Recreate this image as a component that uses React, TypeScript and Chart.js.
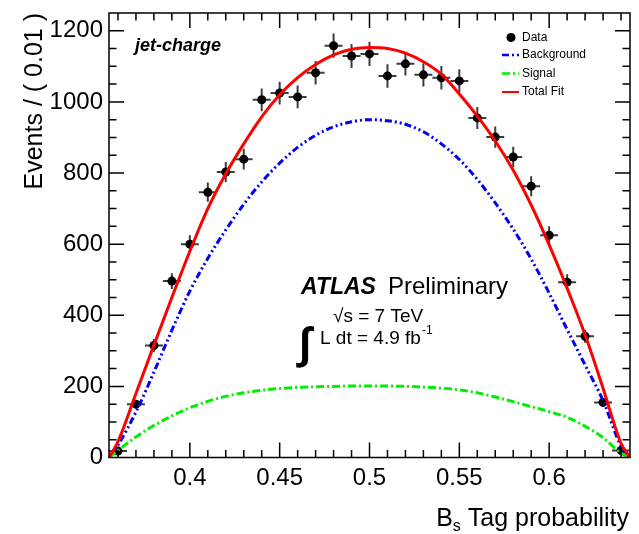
import React, { useEffect, useRef } from "react";
import { Chart, registerables } from "chart.js";

Chart.register(...registerables);

// ---------- data ----------
const binCenters = [
  0.36, 0.37, 0.38, 0.39, 0.4, 0.41, 0.42, 0.43, 0.44, 0.45, 0.46, 0.47, 0.48, 0.49, 0.5,
  0.51, 0.52, 0.53, 0.54, 0.55, 0.56, 0.57, 0.58, 0.59, 0.6, 0.61, 0.62, 0.63, 0.64,
];
const dataCounts = [
  18, 150, 315, 496, 600, 746, 803, 839, 1006, 1025, 1014, 1082, 1158, 1129, 1135,
  1073, 1107, 1076, 1068, 1059, 955, 901, 845, 763, 625, 493, 341, 155, 20,
];
const dataErrors = [
  5, 12, 18, 22, 25, 27, 28, 29, 32, 32, 32, 33, 34, 34, 34,
  33, 33, 33, 33, 33, 31, 30, 29, 28, 25, 22, 18, 12, 5,
];
const binHalfWidth = 0.005;

const curveX = [
  0.355, 0.36, 0.37, 0.38, 0.39, 0.4, 0.41, 0.42, 0.43, 0.44, 0.45, 0.46, 0.47, 0.48, 0.49, 0.5,
  0.51, 0.52, 0.53, 0.54, 0.55, 0.56, 0.57, 0.58, 0.59, 0.6, 0.61, 0.62, 0.63, 0.64, 0.645,
];
const totalFit = [
  0, 45, 180, 316, 450, 580, 700, 798, 882, 958, 1020, 1068, 1105, 1132, 1148, 1153,
  1150, 1137, 1113, 1078, 1022, 960, 890, 808, 710, 598, 476, 345, 195, 40, 0,
];
const background = [
  0, 35, 128, 240, 358, 468, 560, 640, 712, 775, 828, 872, 906, 930, 944, 950,
  947, 937, 916, 882, 838, 782, 716, 642, 558, 462, 360, 260, 160, 32, 0,
];
const signal = [
  0, 20, 58, 90, 117, 140, 158, 172, 182, 189, 194, 197, 199, 200, 201, 201,
  201, 200, 198, 195, 190, 182, 170, 157, 143, 129, 113, 88, 56, 12, 0,
];

const xTickValues = [0.4, 0.45, 0.5, 0.55, 0.6];
const yTickValues = [0, 200, 400, 600, 800, 1000, 1200];
const xMinorStep = 0.01;
const yMinorStep = 50;

const X_MIN = 0.355;
const X_MAX = 0.645;
const Y_MIN = 0;
const Y_MAX = 1250;

const FONT = '"Liberation Sans", Arial, Helvetica, sans-serif';

const decorPlugin = {
  id: "atlasDecor",
  beforeDatasetsDraw(chart: any) {
    const { ctx, chartArea } = chart;
    const xs = chart.scales.x;
    const ys = chart.scales.y;
    ctx.save();
    ctx.beginPath();
    ctx.rect(chartArea.left, chartArea.top, chartArea.right - chartArea.left, chartArea.bottom - chartArea.top);
    ctx.clip();
    ctx.strokeStyle = "#3c3c3c";
    ctx.lineWidth = 2;
    for (let i = 0; i < binCenters.length; i++) {
      const px = xs.getPixelForValue(binCenters[i]);
      const py = ys.getPixelForValue(dataCounts[i]);
      const xl = xs.getPixelForValue(binCenters[i] - binHalfWidth);
      const xr = xs.getPixelForValue(binCenters[i] + binHalfWidth);
      const yt = ys.getPixelForValue(dataCounts[i] + dataErrors[i]);
      const yb = ys.getPixelForValue(Math.max(0, dataCounts[i] - dataErrors[i]));
      ctx.beginPath();
      ctx.moveTo(xl, py);
      ctx.lineTo(xr, py);
      ctx.moveTo(px, yt);
      ctx.lineTo(px, yb);
      ctx.stroke();
    }
    ctx.restore();
  },
  afterDatasetsDraw(chart: any) {
    const { ctx, chartArea } = chart;
    const xs = chart.scales.x;
    const ys = chart.scales.y;
    const L = chartArea.left, R = chartArea.right, T = chartArea.top, B = chartArea.bottom;
    ctx.save();
    // frame
    ctx.strokeStyle = "#000";
    ctx.lineWidth = 1.5;
    ctx.strokeRect(L, T, R - L, B - T);

    // inward ticks
    const major = 15, minor = 7.5;
    ctx.lineWidth = 1.5;
    ctx.beginPath();
    const nx = Math.round((X_MAX - X_MIN) / xMinorStep) + 2;
    for (let k = 0; k < nx; k++) {
      const v = Math.round((0.36 + k * xMinorStep) * 1000) / 1000;
      if (v > X_MAX) break;
      const isMajor = xTickValues.some((t) => Math.abs(t - v) < 1e-6);
      const len = isMajor ? major : minor;
      const p = xs.getPixelForValue(v);
      ctx.moveTo(p, B);
      ctx.lineTo(p, B - len);
      ctx.moveTo(p, T);
      ctx.lineTo(p, T + len);
    }
    for (let v = yMinorStep; v < Y_MAX; v += yMinorStep) {
      const isMajor = yTickValues.includes(v);
      const len = isMajor ? major : minor;
      const p = ys.getPixelForValue(v);
      ctx.moveTo(L, p);
      ctx.lineTo(L + len, p);
      ctx.moveTo(R, p);
      ctx.lineTo(R - len, p);
    }
    ctx.stroke();

    ctx.fillStyle = "#000";
    ctx.textBaseline = "alphabetic";

    // y axis title
    ctx.save();
    ctx.translate(42, T);
    ctx.rotate(-Math.PI / 2);
    ctx.font = `25px ${FONT}`;
    ctx.textAlign = "right";
    ctx.fillText("Events / ( 0.01 )", 0, 0);
    ctx.restore();

    // x axis title with subscript
    ctx.textAlign = "left";
    const base = 526;
    const big = `25px ${FONT}`;
    const small = `16px ${FONT}`;
    ctx.font = big;
    const wB = ctx.measureText("B").width;
    const wRest = ctx.measureText(" Tag probability").width;
    ctx.font = small;
    const wS = ctx.measureText("s").width;
    const startX = 629 - (wB + wS + wRest);
    ctx.font = big;
    ctx.fillText("B", startX, base);
    ctx.font = small;
    ctx.fillText("s", startX + wB, base + 5);
    ctx.font = big;
    ctx.fillText(" Tag probability", startX + wB + wS, base);

    // jet-charge
    ctx.font = `italic bold 18px ${FONT}`;
    ctx.fillText("jet-charge", 135, 51);

    // ATLAS Preliminary
    ctx.font = `italic bold 23px ${FONT}`;
    ctx.fillText("ATLAS", 301, 294);
    ctx.font = `24px ${FONT}`;
    ctx.fillText("Preliminary", 388, 294);

    // sqrt(s)
    ctx.font = `19px ${FONT}`;
    ctx.fillText("\u221As = 7 TeV", 333, 322);
    // integral
    ctx.fillText("L dt = 4.9 fb", 320, 344);
    const wL = ctx.measureText("L dt = 4.9 fb").width;
    ctx.font = `12px ${FONT}`;
    ctx.fillText("-1", 320 + wL + 1, 334);
    ctx.font = `bold 44px ${FONT}`;
    ctx.fillText("\u222B", 299, 358);

    // legend
    const ds = chart.data.datasets;
    const order = ["Data", "Background", "Signal", "Total Fit"];
    const rowsY = [37.5, 55, 73.5, 92];
    ctx.font = `12px ${FONT}`;
    ctx.textBaseline = "middle";
    order.forEach((name, i) => {
      const d = ds.find((x: any) => x.label === name);
      const y = rowsY[i];
      if (!d) return;
      if (name === "Data") {
        ctx.fillStyle = d.backgroundColor;
        ctx.beginPath();
        ctx.arc(511, y, 4.5, 0, Math.PI * 2);
        ctx.fill();
      } else {
        ctx.strokeStyle = d.borderColor;
        ctx.lineWidth = name === "Total Fit" ? 2 : 2.5;
        ctx.setLineDash(d.borderDash || []);
        ctx.beginPath();
        ctx.moveTo(502, y);
        ctx.lineTo(519, y);
        ctx.stroke();
        ctx.setLineDash([]);
      }
      ctx.fillStyle = "#000";
      ctx.fillText(name, 522, y);
    });
    ctx.restore();
  },
};

export default function App() {
  const canvasRef = useRef<HTMLCanvasElement | null>(null);

  useEffect(() => {
    if (!canvasRef.current) return;
    const pts = (xs: number[], ys: number[]) => xs.map((x, i) => ({ x, y: ys[i] }));
    const chart = new Chart(canvasRef.current, {
      type: "scatter",
      data: {
        datasets: [
          {
            label: "Total Fit",
            data: pts(curveX, totalFit),
            showLine: true,
            borderColor: "#ff0000",
            borderWidth: 3,
            pointRadius: 0,
            cubicInterpolationMode: "monotone",
            fill: false,
          } as any,
          {
            label: "Signal",
            data: pts(curveX, signal),
            showLine: true,
            borderColor: "#00ee00",
            borderWidth: 3,
            borderDash: [8, 3, 2, 3],
            pointRadius: 0,
            cubicInterpolationMode: "monotone",
            fill: false,
          } as any,
          {
            label: "Background",
            data: pts(curveX, background),
            showLine: true,
            borderColor: "#0000ee",
            borderWidth: 3,
            borderDash: [7, 3, 2, 3, 2, 3],
            pointRadius: 0,
            cubicInterpolationMode: "monotone",
            fill: false,
          } as any,
          {
            label: "Data",
            data: pts(binCenters, dataCounts),
            showLine: false,
            backgroundColor: "#000000",
            borderColor: "#000000",
            borderWidth: 0,
            pointRadius: 4.5,
          } as any,
        ],
      },
      options: {
        responsive: false,
        animation: false,
        devicePixelRatio: 1,
        layout: { padding: { top: 13, right: 9, left: 0, bottom: 0 } },
        plugins: { legend: { display: false }, tooltip: { enabled: false } },
        scales: {
          x: {
            type: "linear",
            min: X_MIN,
            max: X_MAX,
            grid: { display: false, drawTicks: false },
            border: { display: false },
            afterBuildTicks: (s: any) => {
              s.ticks = xTickValues.map((v) => ({ value: v }));
            },
            afterFit: (s: any) => {
              s.height = 76.5;
              s.paddingLeft = 0;
              s.paddingRight = 0;
            },
            ticks: {
              font: { size: 24, family: FONT },
              color: "#000",
              padding: 6,
              maxRotation: 0,
              autoSkip: false,
              callback: (v: any) => String(v),
            },
          },
          y: {
            type: "linear",
            min: Y_MIN,
            max: Y_MAX,
            grid: { display: false, drawTicks: false },
            border: { display: false },
            afterBuildTicks: (s: any) => {
              s.ticks = yTickValues.map((v) => ({ value: v }));
            },
            afterFit: (s: any) => {
              s.width = 109;
              s.paddingTop = 0;
              s.paddingBottom = 0;
            },
            ticks: {
              font: { size: 24, family: FONT },
              color: "#000",
              padding: 6,
              autoSkip: false,
              callback: (v: any) => String(v),
            },
          },
        },
      } as any,
      plugins: [decorPlugin],
    });
    return () => chart.destroy();
  }, []);

  return (
    <div style={{ position: "fixed", left: 0, top: 0, width: 639, height: 534, background: "#fff" }}>
      <canvas ref={canvasRef} width={639} height={534} style={{ display: "block" }} />
    </div>
  );
}
